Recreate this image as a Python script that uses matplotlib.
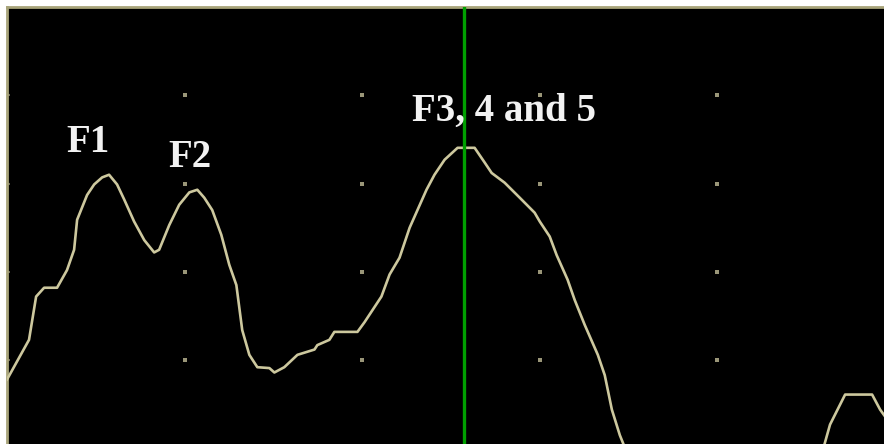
import numpy as np
import matplotlib
matplotlib.use("Agg")
import matplotlib.pyplot as plt

# spectrum trace (x in kHz, y in dB)
freq_khz = [0.0, 0.124, 0.164, 0.209, 0.282, 0.338, 0.378, 0.395, 0.451, 0.491,
            0.536, 0.575, 0.62, 0.66, 0.716, 0.773, 0.829, 0.857, 0.914, 0.97,
            1.027, 1.072, 1.111, 1.156, 1.207, 1.252, 1.292, 1.325, 1.365, 1.41,
            1.478, 1.506, 1.562, 1.636, 1.732, 1.748, 1.816, 1.844, 1.974, 2.014,
            2.109, 2.155, 2.211, 2.268, 2.363, 2.408, 2.465, 2.538, 2.634, 2.69,
            2.73, 2.803, 2.888, 2.972, 3.001, 3.057, 3.096, 3.158, 3.198, 3.254,
            3.328, 3.367, 3.407, 3.452, 3.508, 3.903, 4.354, 4.58, 4.636, 4.721,
            4.873, 4.918, 4.95]
level_db = [7.8, 12.3, 17.2, 18.2, 18.2, 20.2, 22.5, 25.9, 28.7, 29.9,
            30.7, 31.0, 29.9, 28.2, 25.7, 23.6, 22.2, 22.5, 25.3, 27.6,
            29.0, 29.3, 28.4, 27.0, 24.2, 20.8, 18.5, 13.4, 10.6, 9.2,
            9.1, 8.6, 9.2, 10.6, 11.2, 11.7, 12.3, 13.2, 13.2, 14.3,
            17.2, 19.7, 21.6, 25.0, 29.3, 31.0, 32.7, 34.05, 34.05, 32.4,
            31.2, 30.1, 28.4, 26.7, 25.7, 24.0, 21.9, 19.1, 16.8, 14.0,
            10.6, 8.3, 4.4, 1.5, -1.3, -4.7, -4.7, -1.3, 2.7, 6.1,
            6.1, 4.4, 3.5]

cursor_khz = 2.575
labels = ["F1", "F2", "F3, 4 and 5"]
label_x = [0.457, 1.032, 2.284]
label_y = [33.6, 31.9, 37.1]
label_ha = ["center", "center", "left"]

grid_x = [1, 2, 3, 4]
grid_y = [10, 20, 30, 40]

fig = plt.figure(figsize=(8.84, 4.44), dpi=100)
fig.patch.set_facecolor("white")
ax = fig.add_axes([7 / 884, 0, 877 / 884, 437 / 444])
ax.set_facecolor("black")

ax.plot(freq_khz, level_db, color="#cdc89e", lw=1.9, zorder=3)
ax.axvline(cursor_khz, color="#00a000", lw=2.4, zorder=4)

gx, gy = np.meshgrid(grid_x, grid_y)
ax.plot(gx.ravel(), gy.ravel(), ls="none", marker="s", ms=2.2,
        color="#9a9678", mew=0, zorder=2)

for txt, x, y, ha in zip(labels, label_x, label_y, label_ha):
    ax.text(x, y, txt, color="#f2f2f2", fontsize=28, family="Liberation Serif",
            fontweight="bold", ha=ha, va="baseline", zorder=5)

ax.set_xlim(0, 4.94)
ax.set_ylim(0.5, 50)
ax.set_xticks([])
ax.set_yticks(grid_y)
ax.set_yticklabels([])
ax.tick_params(axis="y", direction="in", length=2, width=1.5, color="#6e6b58")
for side in ["right", "bottom"]:
    ax.spines[side].set_visible(False)
for side in ["left", "top"]:
    ax.spines[side].set_color("#a8a47a")
    ax.spines[side].set_linewidth(2)

fig.savefig("out.png", dpi=100, facecolor="white")
